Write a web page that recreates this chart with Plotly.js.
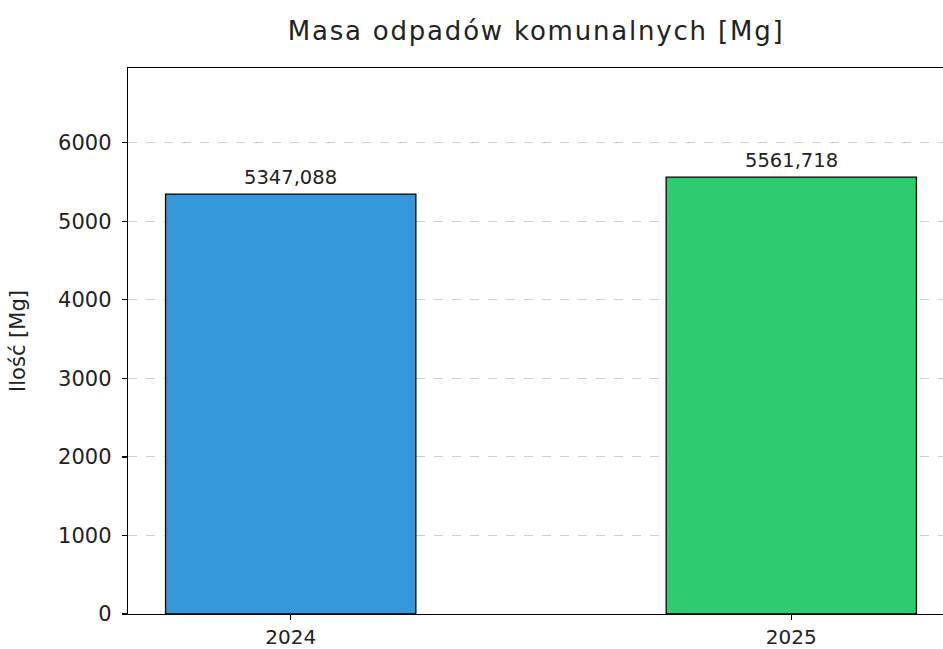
<!DOCTYPE html>
<html>
<head>
<meta charset="utf-8">
<script src="https://cdn.plot.ly/plotly-3.0.1.min.js"></script>
<style>
html,body{margin:0;padding:0;overflow:hidden;width:943px;height:649px;background:#fff;}
#chart{width:954px;height:649px;}
.gtitle{letter-spacing:1.8px;}
</style>
</head>
<body>
<div id="chart"></div>
<script>
const categories = ['2024', '2025'];
const values = [5347.088, 5561.718];
const colors = ['#3498db', '#2ecc71'];
const yTicks = [0, 1000, 2000, 3000, 4000, 5000, 6000];
const titleText = 'Masa odpadów komunalnych [Mg]';
const yTitleText = 'Ilość [Mg]';

const fmt = v => v.toFixed(3).replace('.', ',');
const FONT = 'DejaVu Sans, sans-serif';

const trace = {
  type: 'bar',
  x: categories,
  y: values,
  width: 0.5,
  marker: {color: colors, line: {color: '#000', width: 1.3}},
  hoverinfo: 'none'
};

const annotations = categories.map((c, i) => ({
  x: i, y: values[i], xref: 'x', yref: 'y',
  text: fmt(values[i]), showarrow: false,
  xanchor: 'center', yanchor: 'bottom', yshift: 3,
  font: {family: FONT, size: 19.5, color: '#222'}
}));

const layout = {
  width: 954, height: 649,
  margin: {l: 128, r: 0, t: 68, b: 35, pad: 0},
  paper_bgcolor: '#fff', plot_bgcolor: '#fff',
  showlegend: false,
  title: {
    text: titleText, x: 0.494, xref: 'paper', y: 1 - 31/649, yref: 'container',
    xanchor: 'center', yanchor: 'middle',
    font: {family: FONT, size: 26, color: '#222'}
  },
  xaxis: {
    type: 'category', range: [-0.325, 1.325],
    showline: true, linecolor: '#000', linewidth: 1.3, mirror: true,
    ticks: 'outside', ticklen: 5, tickcolor: '#000', tickwidth: 1.2,
    showgrid: false, zeroline: false,
    tickfont: {family: FONT, size: 20, color: '#222'}
  },
  yaxis: {
    range: [0, values[1] * 1.25],
    tickvals: yTicks, ticktext: yTicks.map(String),
    showline: true, linecolor: '#000', linewidth: 1.3, mirror: true,
    ticks: 'outside', ticklen: 5, tickcolor: '#000', tickwidth: 1.2,
    ticklabelstandoff: 6,
    showgrid: true, gridcolor: '#cfcfcf', griddash: 'dash', gridwidth: 1,
    zeroline: false,
    tickfont: {family: FONT, size: 21, color: '#222'},
    title: {text: yTitleText, standoff: 26, font: {family: FONT, size: 21, color: '#222'}}
  },
  annotations: annotations
};

Plotly.newPlot('chart', [trace], layout, {displayModeBar: false, staticPlot: true});
</script>
</body>
</html>
